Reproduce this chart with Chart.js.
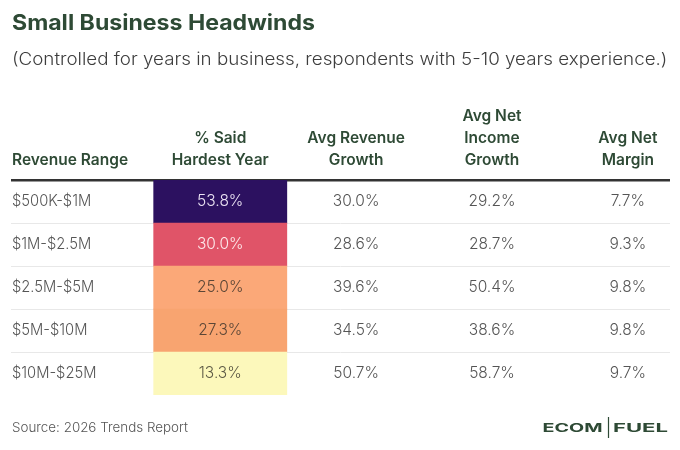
<!DOCTYPE html>
<html>
<head>
<meta charset="utf-8">
<script src="https://cdn.jsdelivr.net/npm/chart.js@4.4.1/dist/chart.umd.min.js"></script>
<style>
  html, body { margin: 0; padding: 0; background: #fff; }
  #wrap { width: 680px; height: 450px; }
</style>
</head>
<body>
<div id="wrap"><canvas id="tableChart" width="680" height="450"></canvas></div>
<script>
// Table data
const revenueRanges = ['$500K-$1M', '$1M-$2.5M', '$2.5M-$5M', '$5M-$10M', '$10M-$25M'];
const hardestYear = [53.8, 30.0, 25.0, 27.3, 13.3];
const revenueGrowth = [30.0, 28.6, 39.6, 34.5, 50.7];
const netIncomeGrowth = [29.2, 28.7, 50.4, 38.6, 58.7];
const netMargin = [7.7, 9.3, 9.8, 9.8, 9.7];
const columnHeaders = [
  ['% Said', 'Hardest Year'],
  ['Avg Revenue', 'Growth'],
  ['Avg Net', 'Income', 'Growth'],
  ['Avg Net', 'Margin']
];
const firstHeader = 'Revenue Range';

// Heat colours for the "% Said Hardest Year" column (row order)
const heatColors = ['#2c1160', '#e05468', '#fba878', '#f8a470', '#fcf8bb'];
const heatText = ['#ece4f4', '#fde8ea', '#5b4636', '#5b4636', '#5d5a45'];

const GREEN = '#2e4a35';
const BODY = '#555555';
const CELL_HALF = 0.49;

// stretch a text horizontally
function wideText(ctx, text, x, y, sx) {
  ctx.save();
  ctx.translate(x, y);
  ctx.scale(sx, 1);
  ctx.fillText(text, 0, 0);
  ctx.restore();
}

// Draws the header, cell text and footer using the chart's scales
const tableText = {
  id: 'tableText',
  afterDatasetsDraw(chart) {
    const { ctx, chartArea, scales: { x, y } } = chart;
    const valueCols = [hardestYear, revenueGrowth, netIncomeGrowth, netMargin];
    ctx.save();
    ctx.textBaseline = 'middle';

    // headers (bottom aligned)
    const lastLineY = chartArea.top - 20;
    const lineH = 22;
    ctx.fillStyle = GREEN;
    ctx.font = '600 15.5px Inter';
    ctx.textAlign = 'left';
    ctx.fillText(firstHeader, chartArea.left + 1, lastLineY);
    ctx.textAlign = 'center';
    columnHeaders.forEach((lines, c) => {
      const cx = x.getPixelForValue(c);
      lines.forEach((t, i) => {
        ctx.fillText(t, cx, lastLineY - (lines.length - 1 - i) * lineH);
      });
    });

    // rows
    ctx.font = '300 15.5px Inter';
    revenueRanges.forEach((label, r) => {
      const cy = y.getPixelForValue(r);
      ctx.textAlign = 'left';
      ctx.fillStyle = BODY;
      wideText(ctx, label, chartArea.left + 1, cy, 0.95);
      ctx.textAlign = 'center';
      valueCols.forEach((col, c) => {
        ctx.fillStyle = c === 0 ? heatText[r] : BODY;
        ctx.fillText(col[r].toFixed(1) + '%', x.getPixelForValue(c), cy);
      });
    });

    // footer
    const fy = chart.height - 22;
    ctx.textAlign = 'left';
    ctx.fillStyle = BODY;
    ctx.font = '300 13.4px Inter';
    ctx.fillText('Source: 2026 Trends Report', chartArea.left + 1, fy);

    // logo
    ctx.fillStyle = GREEN;
    ctx.font = '700 12px Inter';
    ctx.textAlign = 'left';
    const right = chartArea.right - 2;
    const fuelW = 55, ecomW = 60, gap = 4.5;
    const fuelX = right - fuelW;
    wideText(ctx, 'FUEL', fuelX, fy + 0.5, fuelW / ctx.measureText('FUEL').width);
    const barX = fuelX - gap;
    wideText(ctx, 'ECOM', barX - 6 - ecomW, fy + 0.5, ecomW / ctx.measureText('ECOM').width);
    ctx.strokeStyle = GREEN;
    ctx.lineWidth = 1.2;
    ctx.beginPath();
    ctx.moveTo(barX, fy - 11);
    ctx.lineTo(barX, fy + 10);
    ctx.stroke();
    ctx.restore();
  },
  // title and subtitle, stretched to the reference's wide face
  afterDraw(chart) {
    const { ctx, chartArea } = chart;
    ctx.save();
    ctx.textAlign = 'left';
    ctx.textBaseline = 'middle';
    ctx.fillStyle = GREEN;
    ctx.font = '700 21px Inter';
    wideText(ctx, 'Small Business Headwinds', chartArea.left + 1, 24, 1.1);
    ctx.fillStyle = '#3d3d3d';
    ctx.font = '300 17px Inter';
    wideText(ctx, '(Controlled for years in business, respondents with 5-10 years experience.)', chartArea.left + 1, 60, 1.105);
    ctx.restore();
  }
};

new Chart(document.getElementById('tableChart'), {
  type: 'bar',
  data: {
    labels: revenueRanges,
    datasets: [{
      data: hardestYear.map(() => [-CELL_HALF, CELL_HALF]),
      backgroundColor: heatColors,
      borderWidth: 0,
      barPercentage: 1,
      categoryPercentage: 1
    }]
  },
  options: {
    indexAxis: 'y',
    responsive: false,
    animation: false,
    layout: { padding: { left: 11, right: 10, top: 180, bottom: 55 } },
    plugins: {
      legend: { display: false },
      tooltip: { enabled: false },
      title: { display: false }
    },
    scales: {
      x: { type: 'linear', min: -1.54, max: 3.31, display: false },
      y: {
        type: 'category',
        offset: true,
        border: { display: false },
        ticks: { display: false },
        grid: {
          offset: true,
          drawTicks: false,
          color: c => c.type !== 'tick' ? 'rgba(0,0,0,0)' : (c.index === 0 ? '#333333' : '#e8e8e8'),
          lineWidth: c => c.index === 0 ? 2.5 : 1
        }
      }
    }
  },
  plugins: [tableText]
});
</script>
</body>
</html>
